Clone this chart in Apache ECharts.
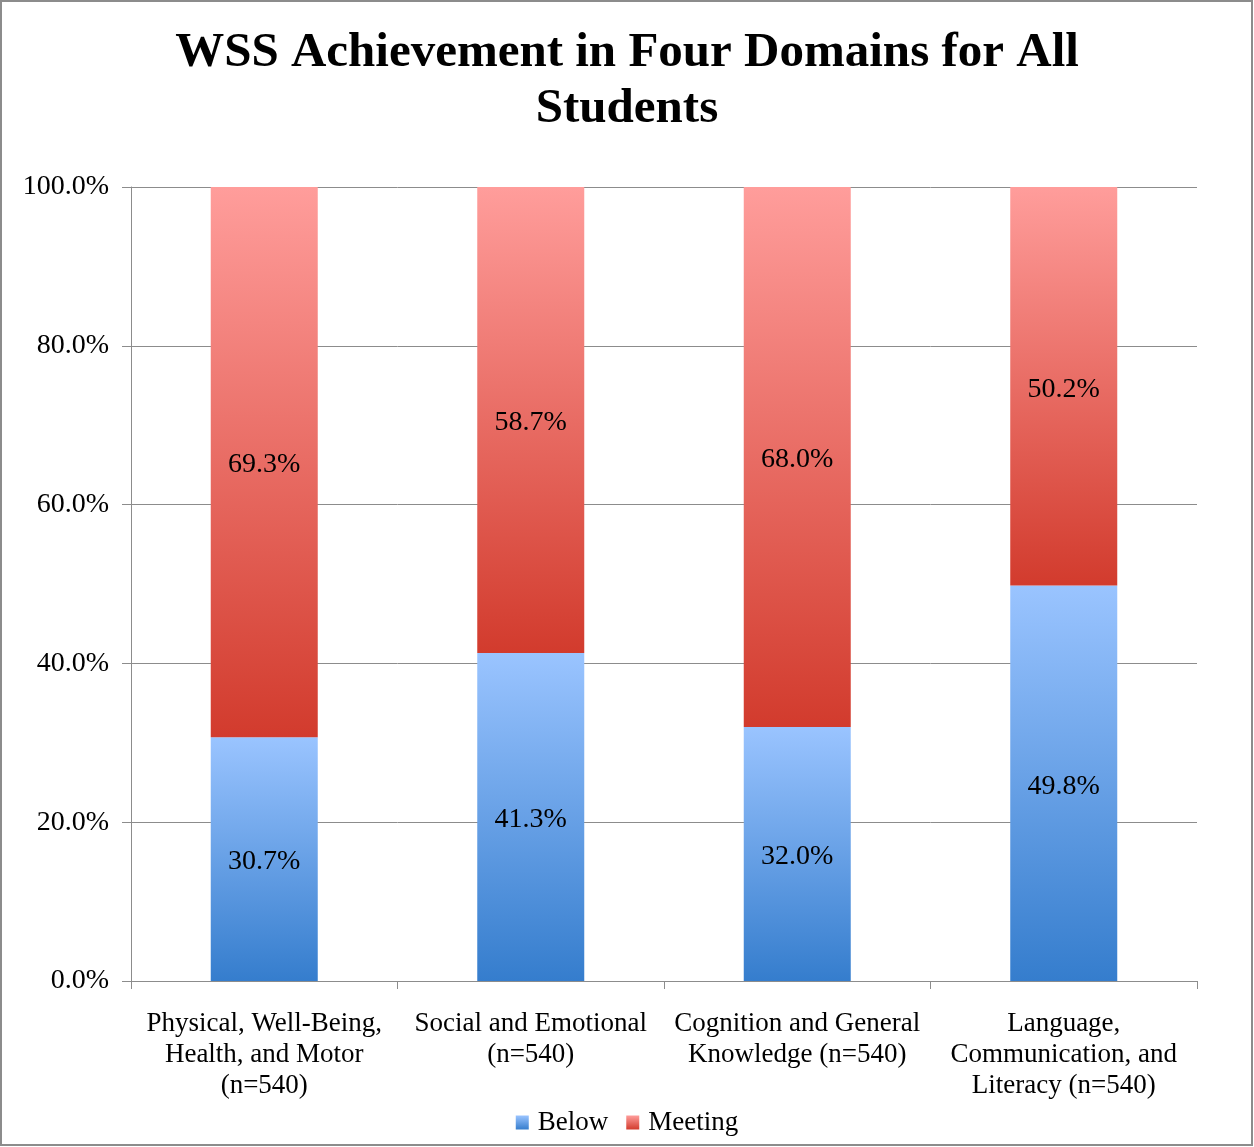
<!DOCTYPE html>
<html>
<head>
<meta charset="utf-8">
<script src="https://cdn.jsdelivr.net/npm/echarts@6/dist/echarts.min.js"></script>
<style>
  html, body { margin: 0; padding: 0; background: #fff; }
  #chart { width: 1254px; height: 1147px; }
</style>
</head>
<body>
<div id="chart"></div>
<script>
// 数据
const categories = [
    'Physical, Well-Being,\nHealth, and Motor\n(n=540)',
    'Social and Emotional\n(n=540)',
    'Cognition and General\nKnowledge (n=540)',
    'Language,\nCommunication, and\nLiteracy (n=540)'
];
const belowValues = [30.7, 41.3, 32.0, 49.8];
const meetingValues = [69.3, 58.7, 68.0, 50.2];
const yTicks = [0, 20, 40, 60, 80, 100];

const serif = '"Liberation Serif", "DejaVu Serif", serif';

const blueGrad = new echarts.graphic.LinearGradient(0, 0, 0, 1, [
    { offset: 0, color: '#9ac4ff' },
    { offset: 1, color: '#357dcd' }
]);
const redGrad = new echarts.graphic.LinearGradient(0, 0, 0, 1, [
    { offset: 0, color: '#ff9d9b' },
    { offset: 1, color: '#d23b2d' }
]);

const labelStyle = {
    show: true,
    position: 'inside',
    color: '#000',
    fontFamily: serif,
    fontSize: 28,
    offset: [0, 3],
    formatter: function (p) { return p.value.toFixed(1) + '%'; }
};

const option = {
    animation: false,
    backgroundColor: '#fff',
    title: {
        text: 'WSS Achievement in Four Domains for All\nStudents',
        left: 'center',
        top: 20,
        textStyle: {
            fontFamily: serif,
            fontWeight: 'bold',
            fontSize: 49,
            lineHeight: 56,
            color: '#000'
        }
    },
    legend: {
        bottom: 6,
        left: 'center',
        itemWidth: 13,
        itemHeight: 14,
        itemGap: 18,
        icon: 'rect',
        textStyle: { fontFamily: serif, fontSize: 27, color: '#000', padding: [0, 0, 0, 4] },
        data: ['Below', 'Meeting']
    },
    grid: { left: 131, right: 57, top: 187, bottom: 166 },
    xAxis: {
        type: 'category',
        data: categories,
        axisLine: { lineStyle: { color: '#8c8c8c', width: 1 } },
        axisTick: { show: true, length: 8, lineStyle: { color: '#8c8c8c' } },
        axisLabel: {
            color: '#000',
            fontFamily: serif,
            fontSize: 27,
            lineHeight: 31,
            margin: 27,
            interval: 0
        }
    },
    yAxis: {
        type: 'value',
        min: 0,
        max: 100,
        interval: 20,
        axisLine: { show: true, lineStyle: { color: '#8c8c8c', width: 1 } },
        axisTick: { show: true, length: 9, lineStyle: { color: '#8c8c8c' } },
        splitLine: { lineStyle: { color: '#8c8c8c', width: 1 } },
        axisLabel: {
            color: '#000',
            fontFamily: serif,
            fontSize: 28,
            margin: 22,
            formatter: function (v) { return v.toFixed(1) + '%'; }
        }
    },
    series: [
        {
            name: 'Below',
            type: 'bar',
            stack: 'total',
            barWidth: 107,
            data: belowValues,
            itemStyle: { color: blueGrad },
            label: labelStyle
        },
        {
            name: 'Meeting',
            type: 'bar',
            stack: 'total',
            barWidth: 107,
            data: meetingValues,
            itemStyle: { color: redGrad },
            label: labelStyle
        }
    ],
    graphic: [
        {
            type: 'rect',
            silent: true,
            shape: { x: 1, y: 1, width: 1251, height: 1144 },
            style: { fill: 'none', stroke: '#8c8c8c', lineWidth: 2 }
        }
    ]
};

const myChart = echarts.init(document.getElementById('chart'));
myChart.setOption(option);
</script>
</body>
</html>
